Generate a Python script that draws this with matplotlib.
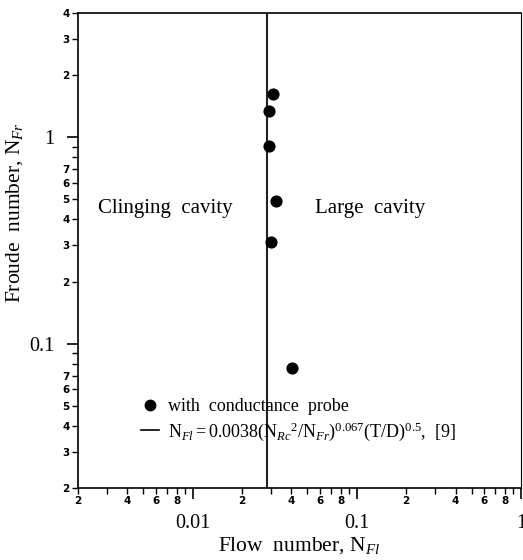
import numpy as np
import matplotlib
matplotlib.use('Agg')
import matplotlib.pyplot as plt
from matplotlib.ticker import FixedLocator, FuncFormatter
from matplotlib.lines import Line2D

plt.rcParams['font.family'] = 'Liberation Serif'
plt.rcParams['mathtext.fontset'] = 'custom'
plt.rcParams['mathtext.rm'] = 'Liberation Serif'
plt.rcParams['mathtext.it'] = 'Liberation Serif:italic'

# data
flow_number = [0.0309, 0.0292, 0.0292, 0.0322, 0.0301, 0.0404]
froude_number = [1.62, 1.34, 0.91, 0.49, 0.31, 0.0766]
boundary_nfl = 0.0285

x_major = [0.01, 0.1, 1]
x_major_labels = ['0.01', '0.1', '1']
x_minor = [0.002, 0.003, 0.004, 0.005, 0.006, 0.007, 0.008, 0.009,
           0.02, 0.03, 0.04, 0.05, 0.06, 0.07, 0.08, 0.09,
           0.2, 0.3, 0.4, 0.5, 0.6, 0.7, 0.8, 0.9]
x_minor_shown = [2, 4, 6, 8]
y_major = [0.1, 1]
y_major_labels = ['0.1', '1']
y_minor = [0.02, 0.03, 0.04, 0.05, 0.06, 0.07, 0.08, 0.09,
           0.2, 0.3, 0.4, 0.5, 0.6, 0.7, 0.8, 0.9,
           2, 3, 4]
y_minor_shown = [2, 3, 4, 5, 6, 7]

fig = plt.figure(figsize=(5.23, 5.6), dpi=100)
ax = fig.add_axes([0.149, 0.1286, 0.847, 0.8482])
ax.set_xscale('log')
ax.set_yscale('log')
ax.set_xlim(0.002, 1)
ax.set_ylim(0.02, 4)

ax.axvline(boundary_nfl, color='#222222', lw=1.5)
ax.scatter(flow_number, froude_number, s=60, color='black', zorder=3)


def minor_fmt(shown):
    def f(v, pos):
        d = int(round(v / 10 ** np.floor(np.log10(v) + 1e-9)))
        return str(d) if d in shown else ''
    return f


ax.xaxis.set_major_locator(FixedLocator(x_major))
ax.xaxis.set_major_formatter(FuncFormatter(lambda v, p: x_major_labels[x_major.index(v)] if v in x_major else ''))
ax.xaxis.set_minor_locator(FixedLocator(x_minor))
ax.xaxis.set_minor_formatter(FuncFormatter(minor_fmt(x_minor_shown)))
ax.yaxis.set_major_locator(FixedLocator(y_major))
ax.yaxis.set_major_formatter(FuncFormatter(lambda v, p: y_major_labels[y_major.index(v)] if v in y_major else ''))
ax.yaxis.set_minor_locator(FixedLocator(y_minor))
ax.yaxis.set_minor_formatter(FuncFormatter(minor_fmt(y_minor_shown)))

ax.tick_params(which='major', length=8, width=1.2, labelsize=14.5, pad=11)
ax.tick_params(axis='y', which='major', pad=9)
ax.tick_params(which='minor', length=4, width=1.0, labelsize=7.5, pad=2)
for lab in ax.get_xminorticklabels() + ax.get_yminorticklabels():
    lab.set_fontfamily('DejaVu Sans')
    lab.set_fontweight('bold')

for s in ax.spines.values():
    s.set_linewidth(1.2)
ax.spines['right'].set_linewidth(0.8)

ax.text(0.0068, 0.45, 'Clinging  cavity', fontsize=15, ha='center', va='center')
ax.text(0.12, 0.45, 'Large  cavity', fontsize=15, ha='center', va='center')

ax.set_xlabel(r'Flow  number, N$_{\mathit{Fl}}$', fontsize=15.5, labelpad=1)
ax.set_ylabel(r'Froude  number, N$_{\mathit{Fr}}$', fontsize=15.5)
ax.yaxis.set_label_coords(-0.12, 0.58)

handles = [
    Line2D([], [], marker='o', ls='none', color='black', markersize=7.5),
    Line2D([], [], color='black', lw=1.2),
]
labels = [
    'with  conductance  probe',
    r'N$_{\mathit{Fl}}$$=$0.0038(N$_{\mathit{Rc}}$$^{2}$/N$_{\mathit{Fr}}$)$^{0.067}$(T/D)$^{0.5}$,  [9]',
]
ax.legend(handles, labels, loc='lower left', bbox_to_anchor=(0.125, 0.08),
          frameon=False, fontsize=13, handlelength=1.0, handletextpad=0.5,
          labelspacing=0.3, borderaxespad=0)

fig.savefig('out.png', dpi=100, facecolor='white')
